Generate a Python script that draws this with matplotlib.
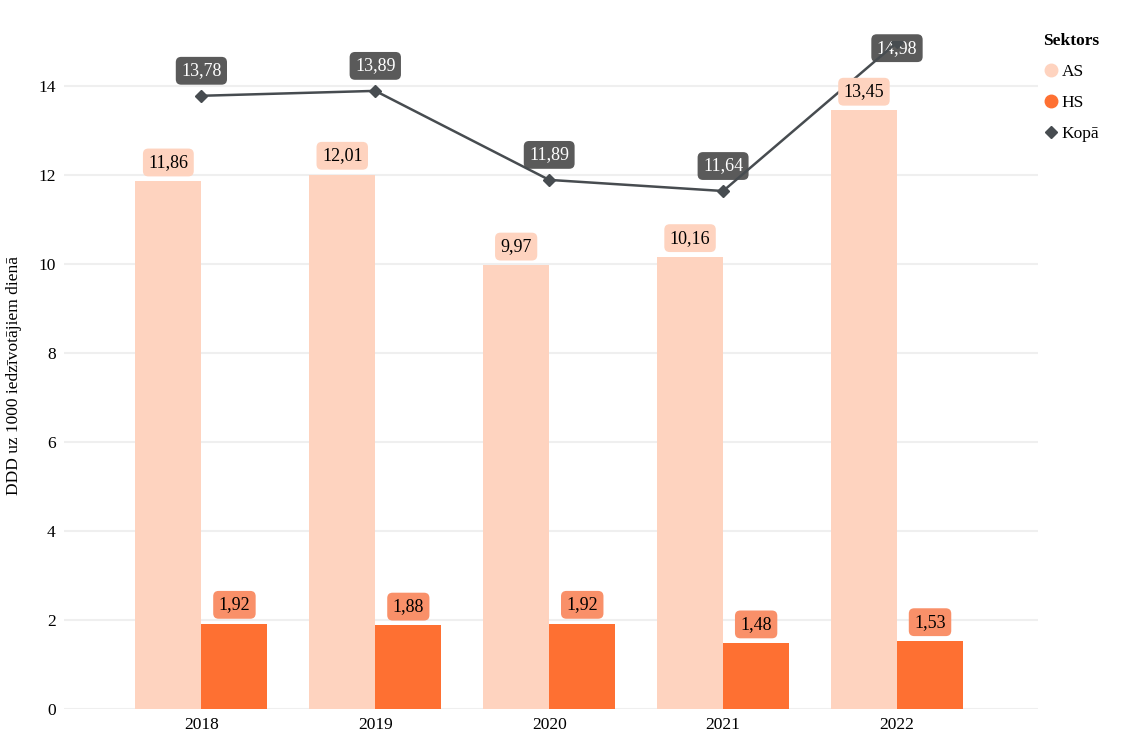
import matplotlib.pyplot as plt
from matplotlib.lines import Line2D
import numpy as np

plt.rcParams['font.family'] = ['Liberation Serif', 'DejaVu Serif']

# dati
gadi = ['2018', '2019', '2020', '2021', '2022']
as_vertibas = [11.86, 12.01, 9.97, 10.16, 13.45]
hs_vertibas = [1.92, 1.88, 1.92, 1.48, 1.53]
kopa_vertibas = [13.78, 13.89, 11.89, 11.64, 14.98]

as_krasa = '#FED3BF'
hs_krasa = '#FE7032'
hs_etikete = '#F99069'
kopa_krasa = '#474C50'
kopa_etikete = '#5A5A5A'

fig = plt.figure(figsize=(11.35, 7.53), dpi=100)
ax = fig.add_axes([0.0564, 0.0584, 0.858, 0.8865])

x = np.arange(len(gadi))
w = 0.38
ax.bar(x - w / 2, as_vertibas, width=w, color=as_krasa, zorder=2)
ax.bar(x + w / 2, hs_vertibas, width=w, color=hs_krasa, zorder=2)
ax.plot(x, kopa_vertibas, color=kopa_krasa, lw=1.8, marker='D', ms=6, zorder=4)

kaste = dict(boxstyle='round,pad=0.3,rounding_size=0.3', ec='none')

def etikete(xp, yp, teksts, fon, tc, dy, z=6):
    ax.annotate(teksts, (xp, yp), xytext=(0, dy), textcoords='offset points',
                ha='center', va='center', fontsize=13, color=tc, zorder=z,
                bbox=dict(kaste, fc=fon))

def fmt(v):
    return f'{v:.2f}'.replace('.', ',')

for i in range(len(gadi)):
    etikete(x[i] - w / 2, as_vertibas[i], fmt(as_vertibas[i]), as_krasa, 'black', 13.5)
    etikete(x[i] + w / 2, hs_vertibas[i], fmt(hs_vertibas[i]), hs_etikete, 'black', 13.5)
    # etiķete paliek grafika robežās
    if kopa_vertibas[i] < 14.6:
        etikete(x[i], kopa_vertibas[i], fmt(kopa_vertibas[i]), kopa_etikete, 'white', 18, z=3)
    else:
        ax.text(x[i], 14.85, fmt(kopa_vertibas[i]), ha='center', va='center', fontsize=13,
                color='white', zorder=3, bbox=dict(kaste, fc=kopa_etikete))

ax.set_xlim(-0.79, 4.81)
ax.set_ylim(0, 15)
ax.set_yticks(range(0, 15, 2))
ax.set_xticks(x)
ax.set_xticklabels(gadi)
ax.tick_params(length=0, labelsize=12.5, pad=6)
ax.grid(axis='y', color='#EFEFEF', lw=1.5, zorder=0)
ax.set_axisbelow(True)
for s in ax.spines.values():
    s.set_visible(False)
ax.set_ylabel('DDD uz 1000 iedzīvotājiem dienā', fontsize=12.5, labelpad=12)

roktura = [
    Line2D([], [], ls='none', marker='o', ms=9, color=as_krasa, label='AS'),
    Line2D([], [], ls='none', marker='o', ms=9, color=hs_krasa, label='HS'),
    Line2D([], [], ls='none', marker='D', ms=6, color=kopa_krasa, label='Kopā'),
]
leg = fig.legend(handles=roktura, title='Sektors', loc='upper left',
                 bbox_to_anchor=(0.908, 0.972), frameon=False, fontsize=12.5,
                 title_fontproperties={'weight': 'bold', 'size': 12.5},
                 handletextpad=0.1, labelspacing=0.85, handlelength=1.0, borderpad=0.2)
leg._legend_box.align = 'left'

fig.savefig('out.png', dpi=100)
